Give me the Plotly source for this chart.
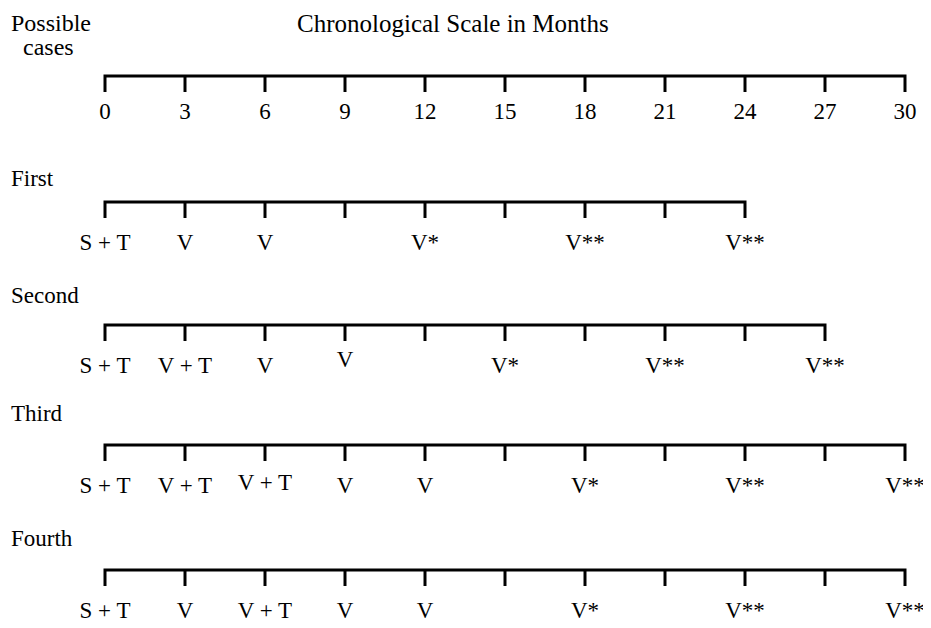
import plotly.graph_objects as go

# ---- data ----
scale_ticks = [0, 3, 6, 9, 12, 15, 18, 21, 24, 27, 30]
scale_labels = ["0", "3", "6", "9", "12", "15", "18", "21", "24", "27", "30"]
cases = ["First", "Second", "Third", "Fourth"]
case_end = [24, 27, 30, 30]
case_months = [
    [0, 3, 6, 12, 18, 24],
    [0, 3, 6, 9, 15, 21, 27],
    [0, 3, 6, 9, 12, 18, 24, 30],
    [0, 3, 6, 9, 12, 18, 24, 30],
]
case_events = [
    ["S + T", "V", "V", "V*", "V**", "V**"],
    ["S + T", "V + T", "V", "V", "V*", "V**", "V**"],
    ["S + T", "V + T", "V + T", "V", "V", "V*", "V**", "V**"],
    ["S + T", "V", "V + T", "V", "V", "V*", "V**", "V**"],
]

# ---- layout constants (page pixels) ----
W, H = 931, 628
OFF = 8  # default page body margin
X0, PX_PER_MONTH = 105, 80 / 3
scale_y = 76
row_y = [202, 325, 445, 570]
row_label_y = [178, 295, 413, 538]
tick_len = 16
FONT = "Liberation Serif"
FS = 23


def px_to_m(px):
    return (px - X0) / PX_PER_MONTH


fig = go.Figure()


def bracket(y, end):
    ticks = [m for m in range(0, end + 1, 3)]
    xs, ys = [0, 0, end, end], [y + tick_len, y, y, y + tick_len]
    fig.add_trace(go.Scatter(x=xs, y=ys, mode="lines",
                             line=dict(color="black", width=3),
                             hoverinfo="skip", showlegend=False))
    tx, ty = [], []
    for m in ticks[1:-1]:
        tx += [m, m, None]
        ty += [y, y + tick_len, None]
    fig.add_trace(go.Scatter(x=tx, y=ty, mode="lines",
                             line=dict(color="black", width=3),
                             hoverinfo="skip", showlegend=False))


# top scale
bracket(scale_y, scale_ticks[-1])
fig.add_trace(go.Scatter(x=scale_ticks, y=[scale_y + 37] * len(scale_ticks),
                         mode="text", text=scale_labels,
                         textfont=dict(family=FONT, size=FS, color="black"),
                         hoverinfo="skip", showlegend=False))

nudge = {(1, 9): -6, (2, 6): -3}
for i, name in enumerate(cases):
    y = row_y[i]
    bracket(y, case_end[i])
    ys = [y + 42 + nudge.get((i, m), 0) for m in case_months[i]]
    fig.add_trace(go.Scatter(x=case_months[i], y=ys, mode="text",
                             text=case_events[i],
                             textfont=dict(family=FONT, size=FS, color="black"),
                             hoverinfo="skip", showlegend=False))
    fig.add_annotation(x=px_to_m(OFF + 0.5), y=row_label_y[i],
                       text=name, showarrow=False, xanchor="left", yanchor="middle",
                       font=dict(family=FONT, size=FS, color="black"))

fig.add_annotation(x=px_to_m(OFF + 0.5), y=OFF, text="Possible",
                   showarrow=False, xanchor="left", yanchor="top",
                   font=dict(family=FONT, size=FS + 1, color="black"))
fig.add_annotation(x=px_to_m(21), y=47, text="cases",
                   showarrow=False, xanchor="left", yanchor="middle",
                   font=dict(family=FONT, size=FS + 1, color="black"))
fig.add_annotation(x=px_to_m(453), y=OFF, text="Chronological Scale in Months",
                   showarrow=False, xanchor="center", yanchor="top",
                   font=dict(family=FONT, size=25, color="black"))

fig.update_layout(
    width=W - OFF, height=H - OFF, margin=dict(l=0, r=0, t=0, b=0),
    paper_bgcolor="white", plot_bgcolor="white",
    xaxis=dict(range=[px_to_m(OFF), px_to_m(W)],
               visible=False, fixedrange=True),
    yaxis=dict(range=[H, OFF], visible=False, fixedrange=True),
)
fig.write_html("out.html")
